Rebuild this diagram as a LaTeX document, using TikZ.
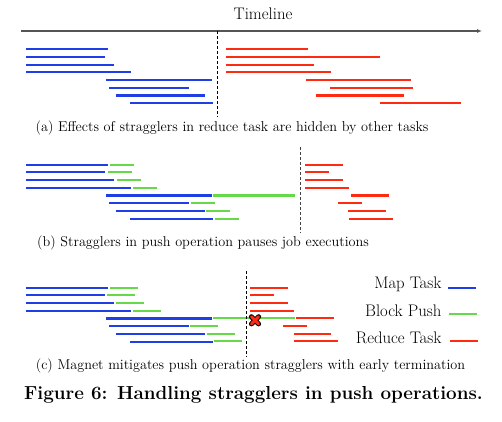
\documentclass[tikz,border=0pt]{standalone}
\usepackage{xcolor}
\usepackage{tikz}
\usetikzlibrary{arrows.meta,positioning}
\definecolor{mapblue}{HTML}{1E3FE6}
\definecolor{pushgreen}{HTML}{66D948}
\definecolor{redred}{HTML}{FF2A12}
\definecolor{axisgray}{HTML}{555555}

\begin{document}
\begin{tikzpicture}[x=1bp,y=-1bp,font=\fontsize{14.3}{16}\selectfont,
  maptask/.style={mapblue,line width=2.1bp},
  blockpush/.style={pushgreen,line width=2.1bp},
  redtask/.style={redred,line width=2.1bp},
  barrier/.style={black,line width=0.9bp,dash pattern=on 3bp off 2bp}]
  \useasboundingbox (0,0) rectangle (502,421);
  % timeline
  \node (tl) at (263,14) {\fontsize{16.8}{18}\selectfont Timeline};
  \coordinate (t0) at (21,31);
  \coordinate (t1) at (482,31);
  \draw[axisgray,line width=1.3bp,-{Latex[length=5bp,width=4bp]}] (t0) -- (t1);
  % map tasks, same in all three panels
  \foreach \top in {49.3,164.7,287.7} {
    \foreach \r/\a/\b in {0/25.7/108.3,1/25.7/105.3,2/25.7/114.3,3/25.7/131,4/106/211.7,5/109.3/189,6/116/204.7,7/130.3/212.7} {
      \draw[maptask] (\a,\top+7.7*\r) -- (\b,\top+7.7*\r);
    }
  }
  % (a)
  \foreach \r/\a/\b in {0/225.7/307.7,1/225.7/379.7,2/225.7/313.7,3/225.7/330.7,4/305.7/411.3,5/329.7/412.7,6/315.7/404.3,7/380.3/460.7} {
    \draw[redtask] (\a,49.3+7.7*\r) -- (\b,49.3+7.7*\r);
  }
  \coordinate (da0) at (217,31);
  \coordinate (da1) at (217,117);
  \draw[barrier] (da0) -- (da1);
  \node (capa) at (232,128) {(a) Effects of stragglers in reduce task are hidden by other tasks};
  % (b)
  \foreach \r/\a/\b in {0/110.3/133.7,1/108/132,2/116.7/140.7,3/133/156.7,4/213.3/294.7,5/191.3/215.3,6/206/229.7,7/215.3/239.3} {
    \draw[blockpush] (\a,164.7+7.7*\r) -- (\b,164.7+7.7*\r);
  }
  \foreach \r/\a/\b in {0/305.3/342.7,1/305.3/329,2/305.3/342.7,3/305.3/348.7,4/351/388.7,5/338/362,6/348.3/386,7/349/392.7} {
    \draw[redtask] (\a,164.7+7.7*\r) -- (\b,164.7+7.7*\r);
  }
  \coordinate (db0) at (300,147.3);
  \coordinate (db1) at (300,232.7);
  \draw[barrier,black!75] (db0) -- (db1);
  \node (capb) at (203,243.3) {(b) Stragglers in push operation pauses job executions};
  % (c)
  \foreach \r/\a/\b in {0/110.3/137.7,1/107.3/135,2/116/143.7,3/133.3/161,4/213.3/295,5/190.3/218.3,6/207/234.7,7/214.3/242.3} {
    \draw[blockpush] (\a,287.7+7.66*\r) -- (\b,287.7+7.66*\r);
  }
  \foreach \r/\a/\b in {0/250.3/287.7,1/250.3/274,2/250.3/287.7,3/250.3/293.7,4/296.3/333.7,5/283.3/307,6/293.7/331.3,7/294/337.7} {
    \draw[redtask] (\a,287.7+7.66*\r) -- (\b,287.7+7.66*\r);
  }
  \coordinate (dc0) at (246,271);
  \coordinate (dc1) at (246,356.7);
  \draw[barrier] (dc0) -- (dc1);
  % early termination mark
  \coordinate (stop) at (255,320.3);
  \draw[black,line width=5bp,line cap=round] ([shift={(-3.6,-3.6)}]stop) -- ([shift={(3.6,3.6)}]stop)
    ([shift={(-3.6,3.6)}]stop) -- ([shift={(3.6,-3.6)}]stop);
  \draw[redred,line width=3bp,line cap=round] ([shift={(-3.6,-3.6)}]stop) -- ([shift={(3.6,3.6)}]stop)
    ([shift={(-3.6,3.6)}]stop) -- ([shift={(3.6,-3.6)}]stop);
  \node (capc) at (250.5,366) {(c) Magnet mitigates push operation stragglers with early termination};
  % legend
  \begin{scope}[font=\fontsize{16.8}{18}\selectfont]
    \node[anchor=east] (lmap) at (445,284.5) {Map Task};
    \node[anchor=east] (lpush) at (445,311) {Block Push};
    \node[anchor=east] (lred) at (445,337.5) {Reduce Task};
  \end{scope}
  \draw[maptask] (448.3,287.7) -- (475.7,287.7);
  \draw[blockpush] (449.3,314.3) -- (477.3,314.3);
  \draw[redtask] (450,340.7) -- (477.7,340.7);
  % figure caption
  \node (fig) at (253.5,395) {\fontsize{18.9}{20}\selectfont\bfseries Figure 6: Handling stragglers in push operations.};
\end{tikzpicture}
\end{document}
